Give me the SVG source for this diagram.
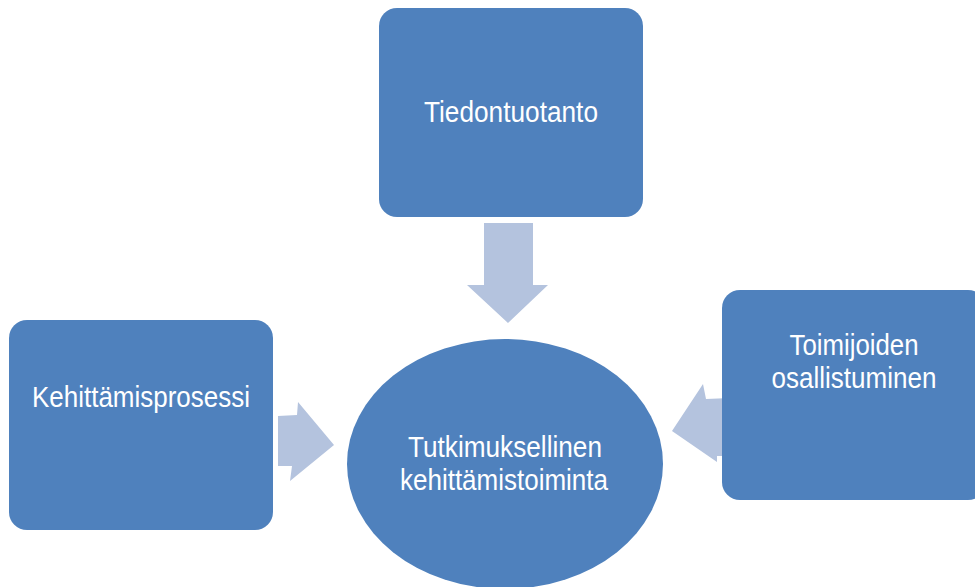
<svg xmlns="http://www.w3.org/2000/svg" width="975" height="587" viewBox="0 0 975 587">
<style>
.node{fill:#4F81BD;}
.arrow{fill:#B4C3DE;}
.lbl{font-family:"Liberation Sans",Arial,sans-serif;font-size:29px;fill:#FFFFFF;text-anchor:middle;}
</style>
<rect width="975" height="587" fill="#FFFFFF"/>
<g id="connectors">
<polygon class="arrow" points="484,223 533,223 533,285 548,285 508,323 467,285 484,285"/>
<polygon class="arrow" points="278,416 297,415 298,402 334,445 290,481 292,466 278,466"/>
<polygon class="arrow" points="672,431 703,384 706,399 730,398 730,456 717,456 717,462"/>
</g>
<g id="tiedontuotanto">
<rect class="node" x="379" y="8" width="264" height="209" rx="18" ry="18"/>
<text class="lbl" x="511" y="122" textLength="174" lengthAdjust="spacingAndGlyphs">Tiedontuotanto</text>
</g>
<g id="kehittamisprosessi">
<rect class="node" x="9" y="320" width="264" height="210" rx="18" ry="18"/>
<text class="lbl" x="141" y="407" textLength="218" lengthAdjust="spacingAndGlyphs">Kehittämisprosessi</text>
</g>
<g id="toimijoiden">
<rect class="node" x="722" y="290" width="264" height="210" rx="18" ry="18"/>
<text class="lbl" x="854" y="355" textLength="129" lengthAdjust="spacingAndGlyphs">Toimijoiden</text>
<text class="lbl" x="854" y="388" textLength="165" lengthAdjust="spacingAndGlyphs">osallistuminen</text>
</g>
<g id="tutkimuksellinen">
<ellipse class="node" cx="505" cy="464" rx="158" ry="125"/>
<text class="lbl" x="505" y="457" textLength="194" lengthAdjust="spacingAndGlyphs">Tutkimuksellinen</text>
<text class="lbl" x="504" y="490" textLength="208" lengthAdjust="spacingAndGlyphs">kehittämistoiminta</text>
</g>
</svg>
